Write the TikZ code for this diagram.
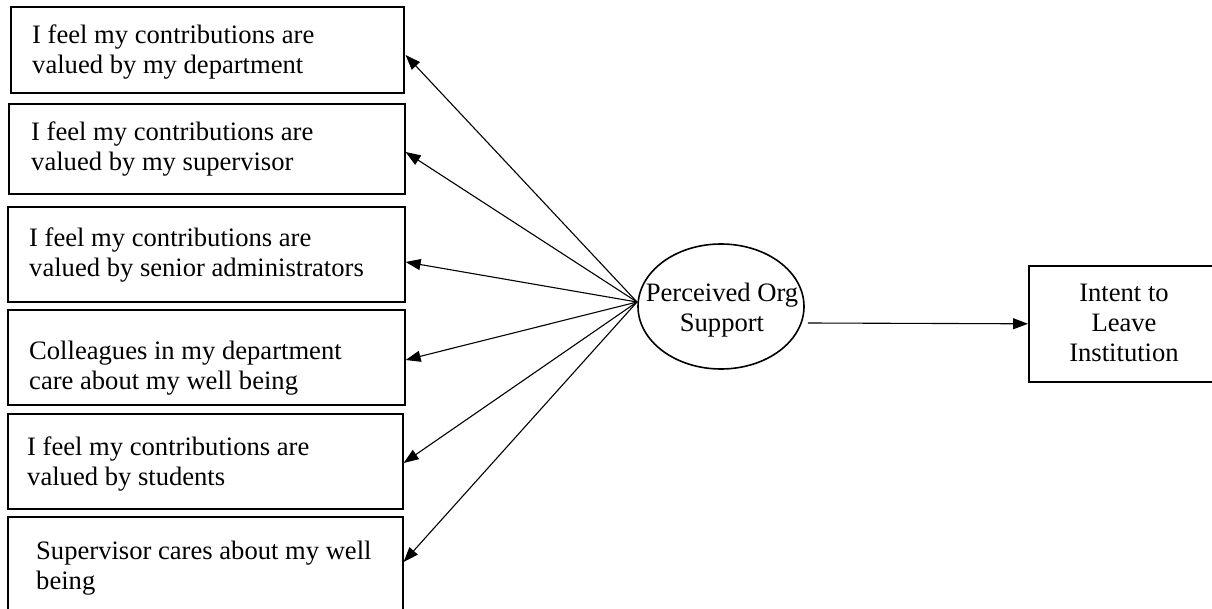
\documentclass[tikz,border=0pt]{standalone}
\usepackage{fontspec}
\setmainfont{Liberation Serif}
\usetikzlibrary{arrows.meta,shapes.geometric,calc}
\begin{document}
\begin{tikzpicture}[x=1pt,y=-1pt,
  itembox/.style={draw,line width=1.6pt,inner sep=0pt,anchor=north west},
  % multi-line texts are anchored at the baseline of their last line
  itemtext/.style={inner sep=0pt,anchor=base west,align=left,font=\fontsize{26.6}{30}\selectfont},
  midtext/.style={inner sep=0pt,anchor=base,align=center,font=\fontsize{26.6}{29}\selectfont},
  link/.style={line width=1.1pt,-{Triangle[length=15pt,width=11pt]}}
]
\useasboundingbox (0,0) rectangle (1212,609);
\clip (0,0) rectangle (1212,609);

% indicator boxes
\node[itembox,minimum width=393pt,minimum height=86pt] (b1) at (10,6) {};
\node[itembox,minimum width=396pt,minimum height=90pt] (b2) at (8,103) {};
\node[itembox,minimum width=397pt,minimum height=95pt] (b3) at (7,206) {};
\node[itembox,minimum width=397pt,minimum height=95pt] (b4) at (7,309) {};
\node[itembox,minimum width=395pt,minimum height=95pt] (b5) at (7,413) {};
\node[itembox,minimum width=395pt,minimum height=110pt] (b6) at (7,516) {};

\node[itemtext] (t1) at (32,74) {I feel my contributions are\\valued by my department};
\node[itemtext] (t2) at (31,171) {I feel my contributions are\\valued by my supervisor};
\node[itemtext] (t3) at (29,277) {I feel my contributions are\\valued by senior administrators};
\node[itemtext] (t4) at (29,389) {Colleagues in my department\\care about my well being};
\node[itemtext] (t5) at (27,485) {I feel my contributions are\\valued by students};
\node[itemtext] (t6) at (36,589) {Supervisor cares about my well\\being};

% latent factor
\node[draw,ellipse,line width=1.6pt,inner sep=0pt,minimum width=166pt,minimum height=125pt] (pos) at (721,306.5) {};
\node[midtext] (post) at (722,331) {Perceived Org\\Support};
\coordinate (hub) at (637,302);

% outcome
\node[itembox,minimum width=192pt,minimum height=116pt] (out) at (1028,265) {};
\node[midtext,font=\fontsize{26.6}{30}\selectfont] (outt) at (1124,361) {Intent to\\Leave\\Institution};

% loadings
\draw[link] (hub) -- ($(b1.north east)+(1,49)$);
\draw[link] (hub) -- ($(b2.north east)+(0,49)$);
\draw[link] (hub) -- ($(b3.north east)+(0,56)$);
\draw[link] (hub) -- ($(b4.north east)+(0,51)$);
\draw[link] (hub) -- ($(b5.north east)+(0,50)$);
\draw[link] (hub) -- ($(b6.north east)+(0,46)$);

% path to outcome
\coordinate (posr) at ($(pos.east)+(3,16.5)$);
\draw[link] (posr) -- (out.west);
\end{tikzpicture}
\end{document}
